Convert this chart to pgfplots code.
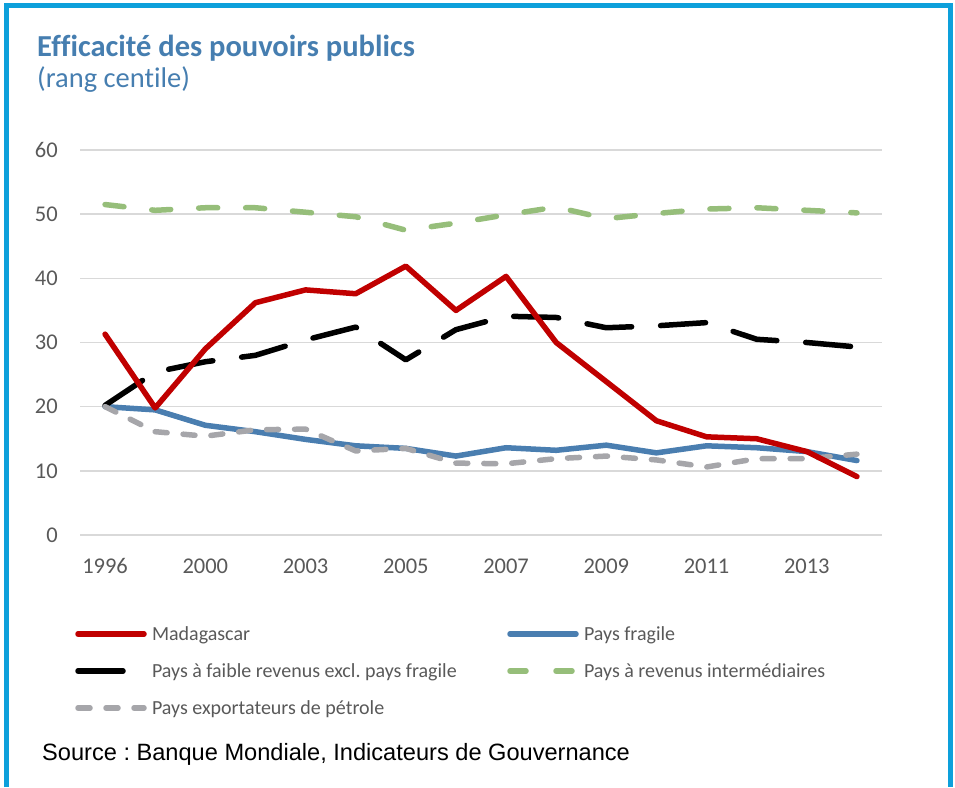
\documentclass[border=0pt]{standalone}
\usepackage{pgfplots}
\pgfplotsset{compat=1.18}
\usepackage{pgfplotstable}
\usepackage{fontspec}
\setmainfont{Carlito}[Ligatures={NoCommon}]
\newfontfamily\srcfont{Liberation Sans}
\frenchspacing
\definecolor{frameblue}{RGB}{13,160,219}
\definecolor{titleblue}{RGB}{70,126,176}
\definecolor{madred}{RGB}{192,0,0}
\definecolor{fragblue}{RGB}{74,126,176}
\definecolor{intergreen}{RGB}{150,190,122}
\definecolor{petgrey}{RGB}{166,166,170}
\definecolor{ticktext}{RGB}{89,89,89}
\definecolor{gridgrey}{RGB}{217,217,217}

\pgfplotstableread{
i year mad frag faible inter petr
0 1996 31.3 20.0 20.2 51.5 20.0
1 1998 19.8 19.5 25.4 50.6 16.1
2 2000 29.0 17.1 27.0 51.0 15.4
3 2002 36.2 16.1 28.0 51.0 16.4
4 2003 38.2 14.9 30.4 50.3 16.5
5 2004 37.6 13.9 32.4 49.6 13.1
6 2005 41.9 13.5 27.3 47.5 13.5
7 2006 35.0 12.3 32.0 48.6 11.2
8 2007 40.3 13.6 34.1 49.9 11.1
9 2008 30.0 13.2 33.9 51.1 11.9
10 2009 23.9 14.0 32.3 49.3 12.3
11 2010 17.8 12.8 32.6 50.1 11.7
12 2011 15.3 13.9 33.1 50.8 10.6
13 2012 15.0 13.6 30.5 51.0 11.9
14 2013 13.0 13.0 30.0 50.6 11.9
15 2014 9.1 11.6 29.3 50.2 12.6
}\datatable

\begin{document}
\begin{tikzpicture}[x=1pt,y=1pt]
\useasboundingbox (0,0) rectangle (955,787);
\draw[line width=5pt, color=frameblue, line join=miter] (6,0) -- (6,781) -- (950,781) -- (950,0);
\node[anchor=base west, inner sep=0, text=titleblue, font=\fontsize{30.5}{36}\selectfont\bfseries] at (37,730) {Efficacité des pouvoirs publics};
\node[anchor=base west, inner sep=0, text=titleblue, font=\fontsize{28.5}{33}\selectfont] at (37,699) {(rang centile)};
\node[anchor=base west, inner sep=0, text=black, font=\fontsize{23.6}{28}\srcfont] at (42,27) {Source : Banque Mondiale, Indicateurs de Gouvernance};
\begin{axis}[
  at={(80pt,252pt)}, anchor=south west,
  width=802pt, height=385pt, scale only axis,
  xmin=-0.5, xmax=15.5, ymin=0, ymax=60,
  axis line style={draw=none}, tick style={draw=none},
  ymajorgrids, grid style={color=gridgrey, line width=1.4pt},
  xtick={0,2,...,14},
  xticklabels={1996,2000,2003,2005,2007,2009,2011,2013},
  ytick={0,10,...,60},
  /pgf/number format/assume math mode=true,
  tick label style={font=\fontsize{22.5}{26}\selectfont, text=ticktext, inner sep=0pt},
  xticklabel style={anchor=base, yshift=-38pt},
  yticklabel style={anchor=east, xshift=-22pt},
  every axis plot/.append style={line cap=round, line join=round, line width=5.5pt},
  legend image code/.code={\path[draw=none, fill=none] (0pt,-5pt) rectangle (72pt,14pt); \draw[#1] (3pt,6pt) -- (69pt,6pt);},
  legend style={at={(-0.00623,-0.23636)}, anchor=north west, draw=none, fill=none,
    inner sep=0pt, outer sep=0pt, legend columns=2,
    font=\fontsize{20}{24}\selectfont, text=ticktext,
    cells={anchor=base west},
    nodes={inner sep=0pt, text height=14pt, text depth=5pt},
    /tikz/column sep=0pt, /tikz/row sep=18pt,
    /tikz/every odd column/.append style={column sep=5pt}},
]
\addlegendimage{color=madred, line width=5.5pt, line cap=round}
\addlegendentry{\makebox[355pt][l]{Madagascar}}
\addlegendimage{color=fragblue, line width=5.5pt, line cap=round}
\addlegendentry{Pays fragile}
\addlegendimage{color=black, line width=5.5pt, line cap=round, dash pattern=on 45pt off 29pt}
\addlegendentry{\makebox[355pt][l]{Pays à faible revenus excl. pays fragile}}
\addlegendimage{color=intergreen, line width=5.5pt, line cap=round, dash pattern=on 16pt off 30pt}
\addlegendentry{Pays à revenus intermédiaires}
\addlegendimage{color=petgrey, line width=5.5pt, line cap=round, dash pattern=on 12pt off 16pt}
\addlegendentry{\makebox[355pt][l]{Pays exportateurs de pétrole}}

\addplot[forget plot, color=fragblue] table[x=i, y=frag] {\datatable};
\addplot[forget plot, color=black, dash pattern=on 45pt off 29pt] table[x=i, y=faible] {\datatable};
\addplot[forget plot, color=intergreen, dash pattern=on 19pt off 28pt] table[x=i, y=inter] {\datatable};
\addplot[forget plot, color=petgrey, dash pattern=on 12pt off 16pt] table[x=i, y=petr] {\datatable};
\addplot[forget plot, color=madred] table[x=i, y=mad] {\datatable};
\end{axis}
\end{tikzpicture}
\end{document}
